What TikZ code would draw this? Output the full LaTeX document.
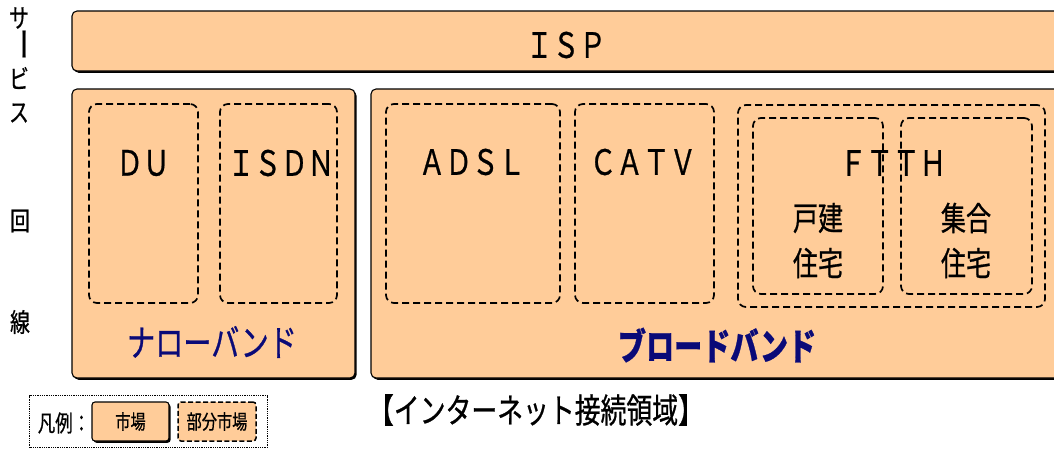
\documentclass[tikz,border=0pt]{standalone}
\usepackage{fontspec}
\usetikzlibrary{shadows}
\newfontfamily\jp[FakeStretch=0.76, FakeBold=0.7]{Noto Sans CJK JP}
\newfontfamily\jpv{Noto Sans CJK JP}
\definecolor{peach}{HTML}{FFCC99}
\definecolor{navy}{RGB}{10,10,120}
\tikzset{
  mkt/.style={draw=black, line width=1.1pt, fill=peach, rounded corners=5pt,
    drop shadow={shadow xshift=1.6pt, shadow yshift=-1.8pt, fill=black, opacity=1},
    inner sep=0pt, outer sep=0pt, anchor=north west},
  sub/.style={draw=black, line width=1.7pt, dash pattern=on 7pt off 4pt,
    rounded corners=8pt, inner sep=0pt, outer sep=0pt, anchor=north west},
  lbl/.style={inner sep=0pt, font=\jp\fontsize{35}{37}\selectfont},
  band/.style={inner sep=0pt, text=navy, font=\jp\fontsize{37}{39}\selectfont},
  side/.style={inner sep=0pt, font=\jp\fontsize{26}{28}\selectfont},
  house/.style={inner sep=0pt, font=\jp\fontsize{33}{35}\selectfont},
}
\begin{document}
\begin{tikzpicture}[x=1pt,y=-1pt]
\useasboundingbox (0,0) rectangle (1054,448);
\clip (0,0) rectangle (1054,448);
% side labels
\node[side] (v1) at (19,18) {サ};
\node[inner sep=0pt, font=\jpv\fontsize{34}{34}\selectfont, rotate=-90] (v2) at (19,44) {ー};
\node[side] (v3) at (19,78) {ビ};
\node[side] (v4) at (19,113) {ス};
\node[side] (v5) at (20,221) {回};
\node[side] (v6) at (20,322) {線};
% ISP
\node[mkt, minimum width=990pt, minimum height=60pt] (isp) at (72,11) {};
\node[lbl] (ispt) at (566,45) {ＩＳＰ};
% narrowband
\node[mkt, minimum width=283pt, minimum height=289pt] (narrow) at (72,89) {};
\node[sub, minimum width=109pt, minimum height=199pt] (du) at (89,104) {};
\node[sub, minimum width=117pt, minimum height=199pt] (isdn) at (220,104) {};
\node[lbl] (dut) at (143,163) {ＤＵ};
\node[lbl] (isdnt) at (281,163) {ＩＳＤＮ};
\node[band] (nbt) at (212,342) {ナローバンド};
% broadband
\node[mkt, minimum width=700pt, minimum height=289pt] (broad) at (371,89) {};
\node[sub, minimum width=174pt, minimum height=199pt] (adsl) at (386,104) {};
\node[sub, minimum width=139pt, minimum height=199pt] (catv) at (575,104) {};
\node[sub, minimum width=307pt, minimum height=202pt] (ftth) at (738,105) {};
\node[sub, minimum width=130pt, minimum height=176pt] (kodate) at (753,118) {};
\node[sub, minimum width=131pt, minimum height=176pt] (shugo) at (901,118) {};
\node[lbl] (adslt) at (472,162) {ＡＤＳＬ};
\node[lbl] (catvt) at (643,162) {ＣＡＴＶ};
\node[lbl] (ftht) at (893,163) {ＦＴＴＨ};
\node[house] (k1) at (818,218) {戸建};
\node[house] (k2) at (818,263) {住宅};
\node[house] (s1) at (966,218) {集合};
\node[house] (s2) at (966,263) {住宅};
\node[band, font=\jp\bfseries\fontsize{37}{39}\selectfont] (bbt) at (717,345) {ブロードバンド};
% legend
\node[draw=black, line width=1.3pt, dash pattern=on 0.9pt off 0.9pt, inner sep=0pt, anchor=north west,
  minimum width=238pt, minimum height=52pt] (legend) at (29,395) {};
\node[inner sep=0pt, font=\jp\fontsize{23}{25}\selectfont] (hanrei) at (64,423) {凡例：};
\node[mkt, rounded corners=3pt, minimum width=77pt, minimum height=39pt] (lm) at (92,402) {};
\node[inner sep=0pt, font=\jp\fontsize{20}{22}\selectfont] (lmt) at (lm.center) {市場};
\node[sub, fill=peach, rounded corners=3pt, line width=1.5pt, dash pattern=on 5pt off 2.5pt,
  minimum width=78pt, minimum height=39pt] (lp) at (178,402) {};
\node[inner sep=0pt, font=\jp\fontsize{20}{22}\selectfont] (lpt) at (lp.center) {部分市場};
% caption
\node[inner sep=0pt, font=\jp\fontsize{34}{36}\selectfont] (cap) at (536,410) {【インターネット接続領域】};
\end{tikzpicture}
\end{document}
